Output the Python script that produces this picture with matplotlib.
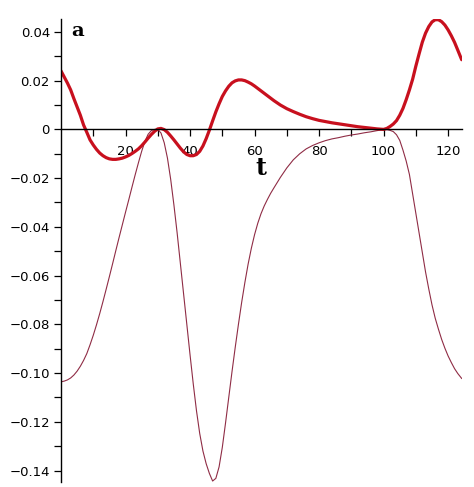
import matplotlib
matplotlib.use("Agg")
import matplotlib.pyplot as plt
from matplotlib.ticker import MultipleLocator, FixedLocator

# thick curve (f)
t_f = [0, 1, 2, 3, 4, 5, 6, 7, 8, 9, 10, 11, 12, 13, 14, 15, 16, 17, 18, 19, 20,
       21, 22, 23, 24, 25, 26, 27, 28, 29, 30, 31, 32, 33, 34, 35, 36, 37, 38, 39,
       40, 41, 42, 43, 44, 45, 46, 47, 48, 49, 50, 51, 52, 53, 54, 55, 56, 57, 58,
       59, 60, 62, 64, 66, 68, 70, 72, 74, 76, 78, 80, 82, 84, 86, 88, 90, 92, 94,
       96, 98, 100, 101, 102, 103, 104, 105, 106, 107, 108, 109, 110, 111, 112,
       113, 114, 115, 116, 117, 118, 119, 120, 121, 122, 123, 124.2]
y_f = [0.0240, 0.0215, 0.0190, 0.0162, 0.0126, 0.0092, 0.0058, 0.0018, -0.0012,
       -0.0043, -0.0064, -0.0082, -0.0097, -0.0108, -0.0116, -0.0121, -0.0123,
       -0.0123, -0.0121, -0.0118, -0.0113, -0.0107, -0.0099, -0.0090, -0.0080,
       -0.0067, -0.0052, -0.0036, -0.0021, -0.0008, 0.0002, 0.0004, -0.0001,
       -0.0012, -0.0027, -0.0043, -0.0060, -0.0077, -0.0092, -0.0103, -0.0108,
       -0.0108, -0.0103, -0.0090, -0.0068, -0.0038, -0.0003, 0.0035, 0.0072,
       0.0105, 0.0135, 0.0158, 0.0177, 0.0191, 0.0199, 0.0203, 0.0203, 0.0200,
       0.0194, 0.0187, 0.0178, 0.0158, 0.0138, 0.0118, 0.0100, 0.0085, 0.0073,
       0.0062, 0.0052, 0.0044, 0.0037, 0.0032, 0.0027, 0.0023, 0.0019, 0.0015,
       0.0011, 0.0008, 0.0005, 0.0002, 0.0, 0.0004, 0.0012, 0.0022, 0.0036,
       0.0058, 0.0086, 0.0122, 0.0162, 0.0206, 0.0260, 0.0310, 0.0358, 0.0395,
       0.0422, 0.0441, 0.0450, 0.0450, 0.0442, 0.0428, 0.0408, 0.0384, 0.0357,
       0.0325, 0.0286]

# thin curve (g)
t_g = [0, 1, 2, 3, 4, 5, 6, 7, 8, 9, 10, 11, 12, 13, 14, 15, 16, 17, 18, 19, 20,
       21, 22, 23, 24, 25, 26, 27, 28, 29, 30, 31, 32, 33, 34, 35, 36, 37, 38, 39,
       40, 41, 42, 43, 44, 45, 46, 47, 48, 49, 50, 51, 52, 53, 54, 55, 56, 57, 58,
       59, 60, 61, 62, 63, 64, 65, 66, 68, 70, 72, 74, 76, 78, 80, 82, 84, 86, 88,
       90, 92, 94, 96, 98, 100, 101, 102, 103, 104, 105, 106, 107, 108, 109, 110,
       111, 112, 113, 114, 115, 116, 117, 118, 119, 120, 121, 122, 123, 124.2]
y_g = [-0.1036, -0.1033, -0.1028, -0.1020, -0.1008, -0.0992, -0.0972, -0.0948,
       -0.0920, -0.0884, -0.0845, -0.0802, -0.0756, -0.0707, -0.0656, -0.0604,
       -0.0551, -0.0497, -0.0444, -0.0392, -0.0340, -0.0289, -0.0237, -0.0186,
       -0.0137, -0.0090, -0.0050, -0.0020, -0.0005, 0.0, 0.0, -0.0015, -0.0055,
       -0.0118, -0.0205, -0.0310, -0.0425, -0.0550, -0.0675, -0.0800, -0.0925,
       -0.1045, -0.1155, -0.1248, -0.1320, -0.1372, -0.1412, -0.1443, -0.1432,
       -0.1385, -0.1305, -0.1205, -0.1100, -0.0995, -0.0895, -0.0800, -0.0710,
       -0.0628, -0.0553, -0.0488, -0.0432, -0.0385, -0.0346, -0.0314, -0.0287,
       -0.0262, -0.0240, -0.0197, -0.0158, -0.0125, -0.0100, -0.0080, -0.0066,
       -0.0055, -0.0046, -0.0039, -0.0034, -0.0028, -0.0023, -0.0019, -0.0014,
       -0.0010, -0.0005, 0.0, -0.0001, -0.0004, -0.0009, -0.0022, -0.0045,
       -0.0085, -0.0130, -0.0185, -0.0265, -0.0345, -0.0425, -0.0505, -0.0585,
       -0.0655, -0.0720, -0.0775, -0.0820, -0.0862, -0.0898, -0.0930, -0.0957,
       -0.0982, -0.1002, -0.1022]

x_ticks = [20, 40, 60, 80, 100, 120]
x_tick_labels = ["20", "40", "60", "80", "100", "120"]
y_ticks = [0.04, 0.02, 0.0, -0.02, -0.04, -0.06, -0.08, -0.10, -0.12, -0.14]
y_tick_labels = ["0.04", "0.02", "0", "\u22120.02", "\u22120.04", "\u22120.06",
                 "\u22120.08", "\u22120.10", "\u22120.12", "\u22120.14"]

W, H = 474, 487
fig = plt.figure(figsize=(W / 100, H / 100), dpi=100)
ax = fig.add_axes([61 / W, 1 - 482 / H, (462 - 61) / W, (482 - 19) / H])
ax.set_xlim(0, 124.3)
ax.set_ylim(-0.1447, 0.0453)

ax.plot(t_g, y_g, color="#8f2c45", lw=0.8, solid_joinstyle="round")
ax.plot(t_f, y_f, color="#c8101e", lw=2.3, solid_joinstyle="round",
        solid_capstyle="round")

for s in ("top", "right"):
    ax.spines[s].set_visible(False)
ax.spines["left"].set_position(("data", 0))
ax.spines["bottom"].set_position(("data", 0))
for s in ("left", "bottom"):
    ax.spines[s].set_linewidth(1.0)
    ax.spines[s].set_color("black")

ax.xaxis.set_major_locator(FixedLocator(x_ticks))
ax.set_xticklabels(x_tick_labels)
ax.xaxis.set_minor_locator(FixedLocator([10, 30, 50, 70, 90, 110]))
ax.yaxis.set_major_locator(FixedLocator(y_ticks))
ax.set_yticklabels(y_tick_labels)
ax.yaxis.set_minor_locator(MultipleLocator(0.01))

ax.tick_params(axis="x", which="both", direction="out", length=5, width=0.9,
               pad=6, labelsize=9.5)
ax.tick_params(axis="y", which="both", direction="out", length=5, width=0.9,
               pad=3, labelsize=9.5)

ax.text(61.8, -0.0160, "t", fontsize=17, fontweight="bold", family="DejaVu Serif",
        ha="center", va="center")
ax.text(5.0, 0.0405, "a", fontsize=14, fontweight="bold", family="DejaVu Serif",
        ha="center", va="center")

fig.savefig("out.png", dpi=100)
